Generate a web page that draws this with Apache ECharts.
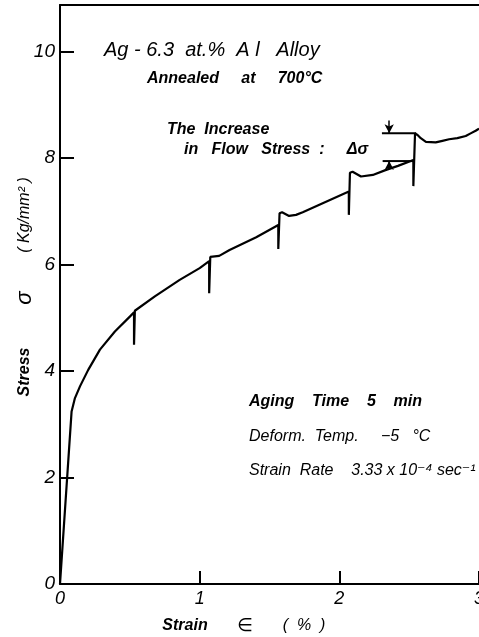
<!DOCTYPE html>
<html>
<head>
<meta charset="utf-8">
<script src="https://cdn.jsdelivr.net/npm/echarts@6/dist/echarts.min.js"></script>
<style>
html,body{margin:0;padding:0;background:#fff;overflow:hidden;width:100%;height:100%;}
#c{width:100%;height:100%;}
</style>
</head>
<body>
<div id="c"></div>
<script>
// ---- data ----
var strain = [0, 0.083, 0.107, 0.143, 0.202, 0.286, 0.393, 0.50, 0.530, 0.530, 0.536, 0.548, 0.679, 0.857, 1.0, 1.068, 1.068, 1.076, 1.09, 1.14, 1.214, 1.405, 1.563, 1.563, 1.572, 1.59, 1.64, 1.69, 1.738, 1.881, 2.068, 2.068, 2.076, 2.095, 2.155, 2.24, 2.33, 2.42, 2.53, 2.53, 2.542, 2.56, 2.583, 2.62, 2.69, 2.738, 2.786, 2.845, 2.905, 2.94, 2.976, 3.0];
var stress = [0, 3.24, 3.49, 3.71, 4.02, 4.40, 4.74, 5.02, 5.10, 4.49, 5.13, 5.16, 5.40, 5.71, 5.93, 6.06, 5.46, 6.14, 6.17, 6.16, 6.27, 6.51, 6.74, 6.29, 6.96, 6.98, 6.91, 6.93, 6.98, 7.15, 7.37, 6.93, 7.72, 7.74, 7.65, 7.68, 7.77, 7.85, 7.96, 7.47, 8.46, 8.43, 8.37, 8.30, 8.29, 8.32, 8.35, 8.37, 8.41, 8.46, 8.51, 8.55];
var xTicks = [0, 1, 2, 3];
var yTicks = [0, 2, 4, 6, 8, 10];
var deltaLevels = [8.46, 7.94];       // upper / lower level of the flow-stress increase
var deltaLineStart = [2.305, 2.31];
var deltaLineEnd = [2.55, 2.53];
var arrowX = 2.357;
var arrowTails = [8.70, 7.80];

var F = "'Liberation Sans','DejaVu Sans',sans-serif";
var chart = echarts.init(document.getElementById('c'), null, {renderer: 'canvas', width: 479, height: 637});

var curve = strain.map(function (s, i) { return [s, stress[i]]; });

function isTick(arr, v) {
  for (var i = 0; i < arr.length; i++) if (Math.abs(arr[i] - v) < 1e-6) return true;
  return false;
}
function txt(x, y, s, font, rot, align) {
  return {type: 'text', x: x, y: y, rotation: rot || 0,
    style: {text: s, fill: '#000', font: font + ' ' + F, textAlign: align || 'left', textVerticalAlign: 'middle'}};
}

var option = {
  backgroundColor: '#fff',
  animation: false,
  grid: {left: 60, right: 0, top: 5, bottom: 53, containLabel: false, outerBoundsMode: 'none'},
  xAxis: [{
    type: 'value', min: 0, max: 3, interval: 1,
    axisLine: {show: true, onZero: false, lineStyle: {color: '#000', width: 2}},
    axisTick: {show: true, inside: true, length: 13, lineStyle: {color: '#000', width: 2}},
    axisLabel: {color: '#000', fontSize: 18, fontStyle: 'italic', fontFamily: F, margin: 6,
      formatter: function (v) { return isTick(xTicks, v) ? String(v) : ''; }},
    splitLine: {show: false}
  }, {
    type: 'value', position: 'top', min: 0, max: 3,
    axisLine: {show: true, onZero: false, lineStyle: {color: '#000', width: 2}},
    axisTick: {show: false}, axisLabel: {show: false}, splitLine: {show: false}
  }],
  yAxis: {
    type: 'value', min: 0, max: 10.87, interval: 2,
    axisLine: {show: true, onZero: false, lineStyle: {color: '#000', width: 2}},
    axisTick: {show: true, inside: true, length: 14, lineStyle: {color: '#000', width: 2}},
    axisLabel: {color: '#000', fontSize: 19, fontStyle: 'italic', fontFamily: F, margin: 5,
      formatter: function (v) { return isTick(yTicks, v) ? String(v) : ''; }},
    splitLine: {show: false}
  },
  series: [{
    type: 'line', data: curve, symbol: 'none', smooth: false,
    lineStyle: {color: '#000', width: 2.2}
  }, {
    type: 'line', symbol: 'none',
    data: [[deltaLineStart[0], deltaLevels[0]], [deltaLineEnd[0], deltaLevels[0]]],
    lineStyle: {color: '#000', width: 2},
    markLine: {
      silent: true, symbol: ['none', 'arrow'], symbolSize: [7, 9],
      label: {show: false},
      lineStyle: {color: '#000', width: 1.5, type: 'solid'},
      data: [
        [{coord: [arrowX, arrowTails[0]]}, {coord: [arrowX, deltaLevels[0]]}],
        [{coord: [arrowX, arrowTails[1]]}, {coord: [arrowX, deltaLevels[1]]}]
      ]
    }
  }, {
    type: 'line', symbol: 'none',
    data: [[deltaLineStart[1], deltaLevels[1]], [deltaLineEnd[1], deltaLevels[1]]],
    lineStyle: {color: '#000', width: 2}
  }],
  graphic: [
    txt(104, 50, 'Ag - 6.3  at.%  A l   Alloy', 'italic 20px'),
    txt(147, 79, 'Annealed     at     700°C', 'italic bold 16px'),
    txt(167, 130, 'The  Increase', 'italic bold 16px'),
    txt(184, 150, 'in   Flow   Stress  :     Δσ', 'italic bold 16px'),
    txt(249, 402, 'Aging    Time    5    min', 'italic bold 16px'),
    txt(249, 437, 'Deform.  Temp.     −5   °C', 'italic 16px'),
    txt(249, 471, 'Strain  Rate    3.33 x 10⁻⁴ sec⁻¹', 'italic 16px'),
    txt(25, 372, 'Stress', 'italic bold 16px', Math.PI / 2, 'center'),
    txt(25, 298, 'σ', 'italic 22px', Math.PI / 2, 'center'),
    txt(25, 215, '( Kg/mm² )', 'italic 16px', Math.PI / 2, 'center'),
    txt(185, 626, 'Strain', 'italic bold 16px', 0, 'center'),
    txt(245, 626, '∈', '18px', 0, 'center'),
    txt(304, 626, '(  %  )', 'italic 16px', 0, 'center')
  ]
};
chart.setOption(option);
</script>
</body>
</html>
